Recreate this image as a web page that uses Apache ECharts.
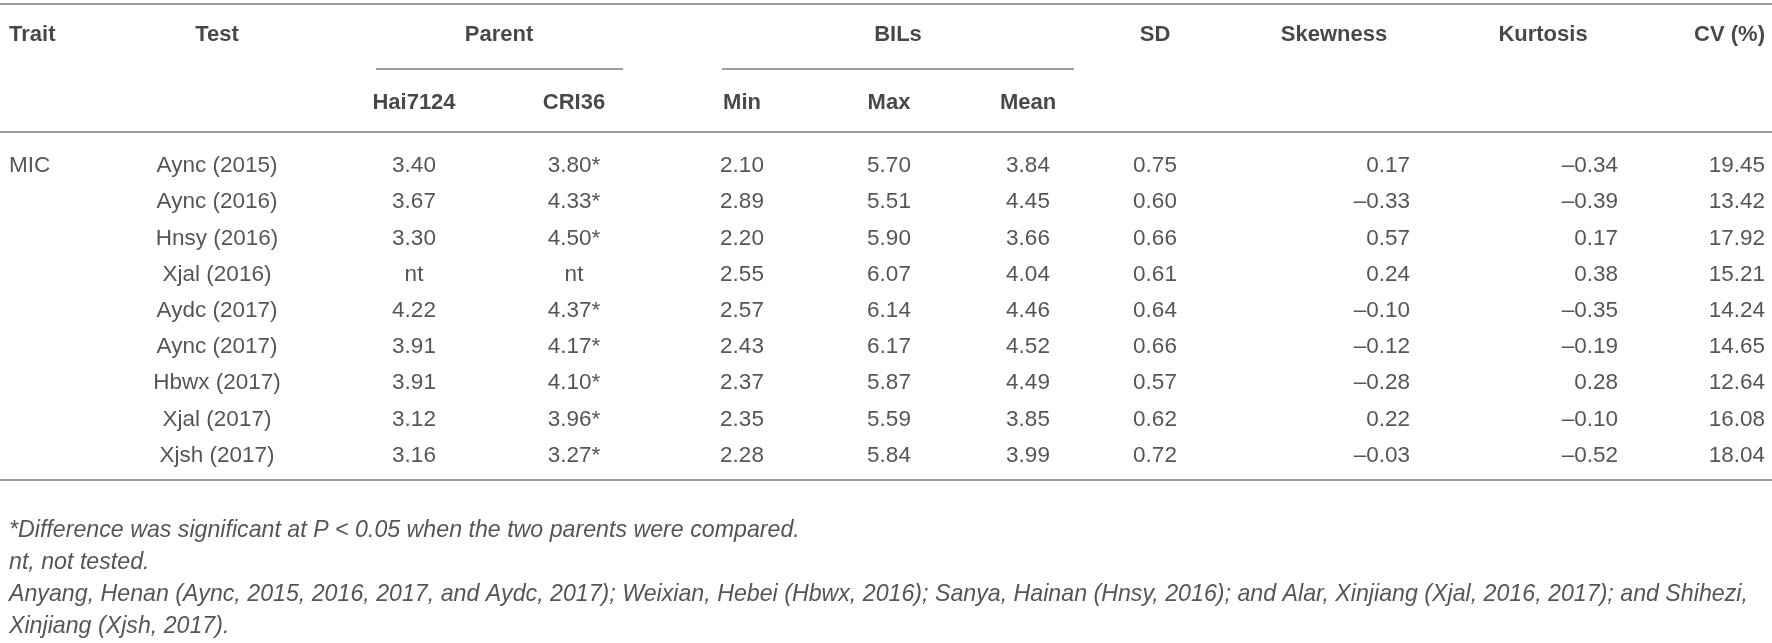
<!DOCTYPE html>
<html><head><meta charset="utf-8">
<script src="https://cdn.jsdelivr.net/npm/echarts@6/dist/echarts.min.js"></script>
<style>html,body{margin:0;padding:0;background:#fff}#c{width:1772px;height:643px}</style>
</head><body><div id="c"></div>
<script>
// ---- data ----
const trait = "MIC";
const tests = ["Aync (2015)","Aync (2016)","Hnsy (2016)","Xjal (2016)","Aydc (2017)","Aync (2017)","Hbwx (2017)","Xjal (2017)","Xjsh (2017)"];
const hai7124 = ["3.40","3.67","3.30","nt","4.22","3.91","3.91","3.12","3.16"];
const cri36 = ["3.80*","4.33*","4.50*","nt","4.37*","4.17*","4.10*","3.96*","3.27*"];
const bilMin = [2.10,2.89,2.20,2.55,2.57,2.43,2.37,2.35,2.28];
const bilMax = [5.70,5.51,5.90,6.07,6.14,6.17,5.87,5.59,5.84];
const bilMean = [3.84,4.45,3.66,4.04,4.46,4.52,4.49,3.85,3.99];
const sd = [0.75,0.60,0.66,0.61,0.64,0.66,0.57,0.62,0.72];
const skewness = [0.17,-0.33,0.57,0.24,-0.10,-0.12,-0.28,0.22,-0.03];
const kurtosis = [-0.34,-0.39,0.17,0.38,-0.35,-0.19,0.28,-0.10,-0.52];
const cv = [19.45,13.42,17.92,15.21,14.24,14.65,12.64,16.08,18.04];
const headers1 = ["Trait","Test","Parent","BILs","SD","Skewness","Kurtosis","CV (%)"];
const headers2 = ["Hai7124","CRI36","Min","Max","Mean"];
const footnotes = [
  "*Difference was significant at P < 0.05 when the two parents were compared.",
  "nt, not tested.",
  "Anyang, Henan (Aync, 2015, 2016, 2017, and Aydc, 2017); Weixian, Hebei (Hbwx, 2016); Sanya, Hainan (Hnsy, 2016); and Alar, Xinjiang (Xjal, 2016, 2017); and Shihezi,",
  "Xinjiang (Xjsh, 2017)."
];

// ---- layout (positions only) ----
const W = 1772, H = 643;
const FONT = "'Liberation Sans', Arial, Helvetica, sans-serif";
const colX = {trait:9, test:217, hai:414, cri:574, min:742, max:889, mean:1028, sd:1155, skewH:1334, skewV:1410, kurtH:1543, kurtV:1618, cv:1765, parent:499, bils:898};
const yHead1 = 35, yHead2 = 103, yData0 = 166, rowStep = 36.2, yFoot0 = 531, footStep = 32;
const rowY = i => yData0 + i * rowStep;

function fmt(v){ return (v < 0 ? '\u2013' : '') + Math.abs(v).toFixed(2); }

function textSeries(items, opt){
  return {
    type:'scatter', symbolSize:1, silent:true, animation:false,
    itemStyle:{color:'rgba(0,0,0,0)'},
    data: items,
    label:{
      show:true, position:'inside', formatter:p=>p.value[2],
      align: opt.align || 'center', verticalAlign:'middle',
      fontFamily: FONT, fontSize: opt.size || 22.5, fontWeight: opt.weight || 'normal',
      fontStyle: opt.style || 'normal', color: opt.color || '#2a2a2a'
    }
  };
}
function hline(x1, x2, y){
  return {type:'line', data:[[x1,y],[x2,y]], showSymbol:false, silent:true, animation:false,
    lineStyle:{color:'#9c9c9c', width:2}};
}

const series = [];
// header row 1
const h1X = [colX.trait, colX.test, colX.parent, colX.bils, colX.sd, colX.skewH, colX.kurtH, colX.cv];
const h1Align = ['left','center','center','center','center','center','center','right'];
headers1.forEach((h,i)=>series.push(textSeries([[h1X[i], yHead1, h]], {align:h1Align[i], weight:'bold', color:'#1a1a1a', size:22})));
// header row 2
const h2X = [colX.hai, colX.cri, colX.min, colX.max, colX.mean];
headers2.forEach((h,i)=>series.push(textSeries([[h2X[i], yHead2, h]], {weight:'bold', color:'#1a1a1a', size:22})));
// rules
series.push(hline(0, W, 4));
series.push(hline(376, 623, 69));
series.push(hline(722, 1074, 69));
series.push(hline(0, W, 132));
series.push(hline(0, W, 480));
// data
series.push(textSeries([[colX.trait, rowY(0), trait]], {align:'left'}));
series.push(textSeries(tests.map((t,i)=>[colX.test, rowY(i), t]), {}));
series.push(textSeries(hai7124.map((t,i)=>[colX.hai, rowY(i), t]), {}));
series.push(textSeries(cri36.map((t,i)=>[colX.cri, rowY(i), t]), {}));
series.push(textSeries(bilMin.map((v,i)=>[colX.min, rowY(i), fmt(v)]), {}));
series.push(textSeries(bilMax.map((v,i)=>[colX.max, rowY(i), fmt(v)]), {}));
series.push(textSeries(bilMean.map((v,i)=>[colX.mean, rowY(i), fmt(v)]), {}));
series.push(textSeries(sd.map((v,i)=>[colX.sd, rowY(i), fmt(v)]), {}));
series.push(textSeries(skewness.map((v,i)=>[colX.skewV, rowY(i), fmt(v)]), {align:'right'}));
series.push(textSeries(kurtosis.map((v,i)=>[colX.kurtV, rowY(i), fmt(v)]), {align:'right'}));
series.push(textSeries(cv.map((v,i)=>[colX.cv, rowY(i), fmt(v)]), {align:'right'}));
// footnotes
series.push(textSeries(footnotes.map((t,i)=>[colX.trait, yFoot0 + i*footStep, t]), {align:'left', style:'italic', size:23.2}));

const chart = echarts.init(document.getElementById('c'), null, {renderer:'canvas'});
chart.setOption({
  backgroundColor:'#fff',
  animation:false,
  grid:{left:0, right:0, top:0, bottom:0},
  xAxis:{type:'value', min:0, max:W, show:false},
  yAxis:{type:'value', min:0, max:H, inverse:true, show:false},
  series: series
});
</script></body></html>
